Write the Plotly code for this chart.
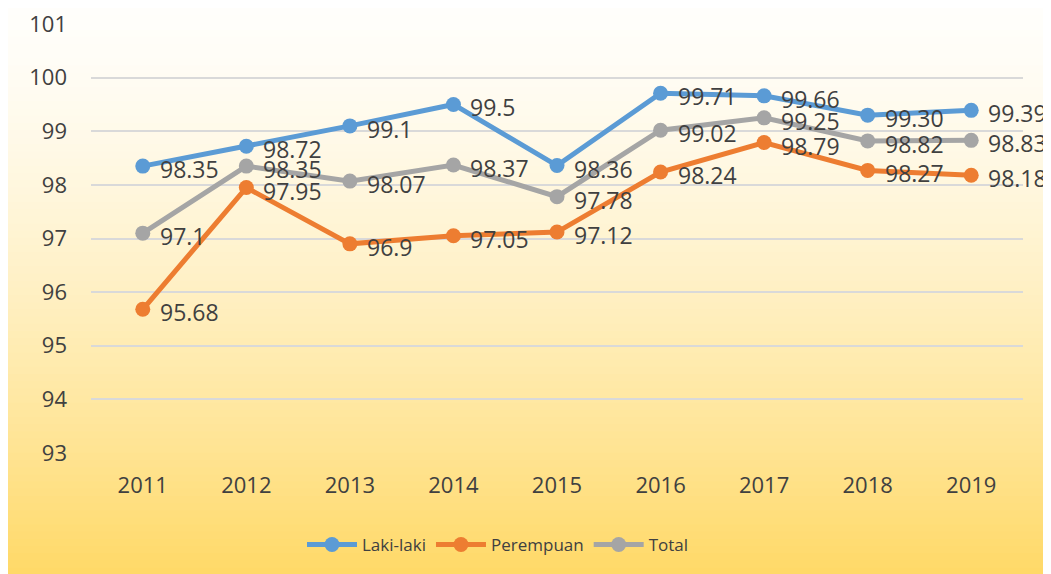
import plotly.graph_objects as go

# Data
years       = ['2011', '2012', '2013', '2014', '2015', '2016', '2017', '2018', '2019']
lakiLaki    = [98.35, 98.72, 99.1, 99.5, 98.36, 99.71, 99.66, 99.30, 99.39]
perempuan   = [95.68, 97.95, 96.9, 97.05, 97.12, 98.24, 98.79, 98.27, 98.18]
total       = [97.1, 98.35, 98.07, 98.37, 97.78, 99.02, 99.25, 98.82, 98.83]
lakiText    = ['98.35', '98.72', '99.1', '99.5', '98.36', '99.71', '99.66', '99.30', '99.39']
perempText  = ['95.68', '97.95', '96.9', '97.05', '97.12', '98.24', '98.79', '98.27', '98.18']
totalText   = ['97.1', '98.35', '98.07', '98.37', '97.78', '99.02', '99.25', '98.82', '98.83']
yTicks      = [93, 94, 95, 96, 97, 98, 99, 100, 101]

# Layout geometry (figure coords; page adds an 8px body margin)
W, H         = 1043, 566
mL, mR       = 83, 28
mT, mB       = 16, 121
plotW, plotH = W - mL - mR, H - mT - mB

def PxToPaperX(px): return (px - mL) / plotW
def PxToPaperY(py): return (H - mB - py) / plotH

# Background gradient (white -> soft gold)
shapes = []
nBands = 80
top, bottom = (255, 254, 251), (255, 216, 100)
for i in range(nBands):
    t   = ((i + 0.5) / nBands) ** 1.4
    rgb = tuple(round(top[k] + (bottom[k] - top[k]) * t) for k in range(3))
    y0  = (H + 8) * i / nBands
    y1  = (H + 8) * (i + 1) / nBands + 1
    shapes.append(dict(type='rect', xref='paper', yref='paper', layer='below',
                       x0=PxToPaperX(0), x1=PxToPaperX(W + 2), y0=PxToPaperY(y1), y1=PxToPaperY(y0),
                       fillcolor='rgb(%d,%d,%d)' % rgb, line=dict(width=0)))

labelFont = dict(family='Open Sans', size=23, color='#404040')

fig = go.Figure()
series = [('Laki-laki', lakiLaki, lakiText, '#5B9BD5'),
          ('Perempuan', perempuan, perempText, '#ED7D31'),
          ('Total', total, totalText, '#A5A5A5')]
annotations = []
for name, values, texts, color in series:
    fig.add_trace(go.Scatter(x=years, y=values, name=name, mode='lines+markers',
                             line=dict(color=color, width=5), marker=dict(color=color, size=15),
                             cliponaxis=False))
    # data labels, x given as category index
    for i, (v, tx) in enumerate(zip(values, texts)):
        annotations.append(dict(x=i, y=v, text=tx, showarrow=False, xanchor='left', yanchor='middle',
                                xshift=15, yshift=-3, font=labelFont))

fig.update_layout(
    width=W, height=H,
    margin=dict(l=mL, r=mR, t=mT, b=mB, autoexpand=False),
    paper_bgcolor='white', plot_bgcolor='rgba(0,0,0,0)',
    shapes=shapes, annotations=annotations,
    font=dict(family='Open Sans', color='#404040'),
    xaxis=dict(type='category', range=[-0.5, len(years) - 0.5], showgrid=False, showline=False,
               zeroline=False, ticks='', tickfont=dict(size=22, color='#404040'), ticklabelstandoff=17),
    yaxis=dict(range=[93, 101], tickvals=yTicks, showgrid=True, gridcolor='#D9D9D9', gridwidth=2,
               zeroline=False, showline=False, tickfont=dict(size=22, color='#404040'), ticklabelstandoff=23,
               ticklabeloverflow='allow'),
    legend=dict(orientation='h', x=PxToPaperX(490), xanchor='center', y=PxToPaperY(537), yanchor='middle',
                font=dict(size=17, color='#404040'), bgcolor='rgba(0,0,0,0)', itemwidth=50),
    showlegend=True,
)

fig.write_html('out.html')
